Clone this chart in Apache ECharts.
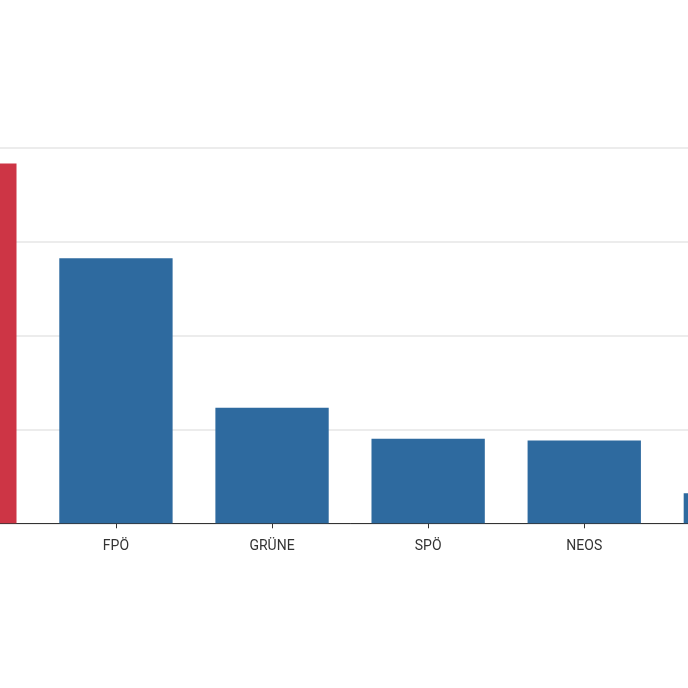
<!DOCTYPE html>
<html>
<head>
<meta charset="utf-8">
<script src="https://cdn.jsdelivr.net/npm/echarts@6/dist/echarts.min.js"></script>
<style>
html,body{margin:0;padding:0;width:688px;height:688px;overflow:hidden;background:#fff;position:relative;}
#c{position:absolute;left:-150px;top:0;width:1100px;height:688px;}
</style>
</head>
<body>
<div id="c"></div>
<script>
const categories = ['ÖVP', 'FPÖ', 'GRÜNE', 'SPÖ', 'NEOS', 'KPÖ'];
const values = [38.3, 28.2, 12.3, 9.0, 8.8, 3.2];
const barColors = ['#cd3545', '#2e6a9f', '#2e6a9f', '#2e6a9f', '#2e6a9f', '#2e6a9f'];
const yTicks = [0, 10, 20, 30, 40];

const chart = echarts.init(document.getElementById('c'), null, {renderer: 'canvas'});
chart.setOption({
  animation: false,
  grid: {left: 31.8, top: 147.5, width: 936.6, height: 375.8, containLabel: false},
  xAxis: {
    type: 'category',
    data: categories,
    axisLine: {show: true, lineStyle: {color: '#333', width: 1}},
    axisTick: {show: true, alignWithLabel: true, length: 5, lineStyle: {color: '#333'}},
    axisLabel: {color: '#333', fontSize: 14, fontFamily: 'Roboto', margin: 16}
  },
  yAxis: {
    type: 'value',
    min: yTicks[0],
    max: yTicks[yTicks.length - 1],
    interval: 10,
    axisLine: {show: false},
    axisTick: {show: false},
    axisLabel: {show: false},
    splitLine: {show: true, lineStyle: {color: '#e6e6e6', width: 1.5}}
  },
  series: [{
    type: 'bar',
    data: values.map((v, i) => ({value: v, itemStyle: {color: barColors[i]}})),
    barCategoryGap: '27.4%'
  }]
});
</script>
</body>
</html>
